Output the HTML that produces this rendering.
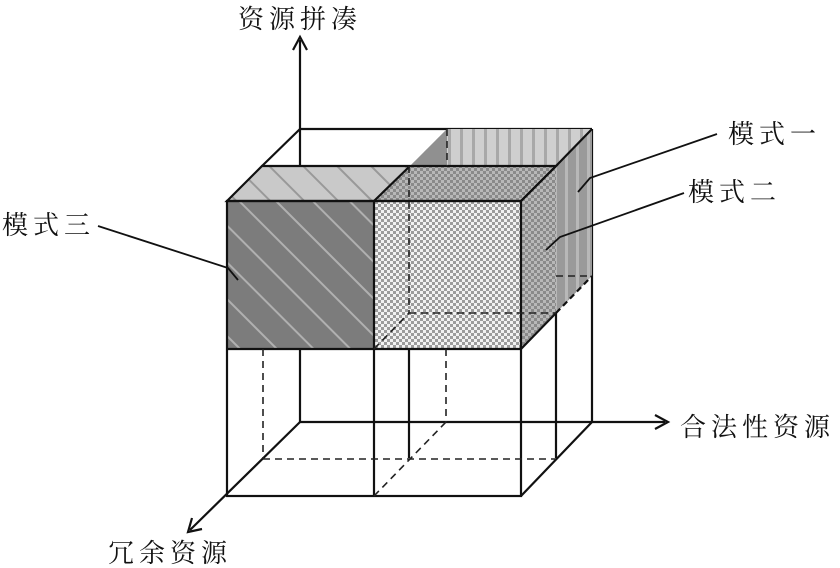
<!DOCTYPE html>
<html><head><meta charset="utf-8"><style>
html,body{margin:0;padding:0;background:#fff;}
svg{display:block;}
text{font-family:"Liberation Serif","Noto Serif CJK SC","Noto Sans CJK SC",serif;font-size:26px;fill:#111;letter-spacing:5px;}
</style></head><body>
<svg width="840" height="568" viewBox="0 0 840 568" xmlns="http://www.w3.org/2000/svg">
<defs>
<pattern id="diagL" width="24" height="24" patternUnits="userSpaceOnUse" patternTransform="rotate(-45)">
<rect width="24" height="24" fill="#c9c9c9"/><rect width="2" height="24" fill="#999"/></pattern>
<pattern id="diagD" width="26" height="26" patternUnits="userSpaceOnUse" patternTransform="rotate(-45)">
<rect width="26" height="26" fill="#7c7c7c"/><rect width="2" height="26" fill="#b0b0b0"/></pattern>
<pattern id="chkL" width="6" height="6" patternUnits="userSpaceOnUse">
<rect width="6" height="6" fill="#f2f2f2"/><rect width="3" height="3" fill="#9c9c9c"/><rect x="3" y="3" width="3" height="3" fill="#9c9c9c"/></pattern>
<pattern id="chkD" width="6" height="6" patternUnits="userSpaceOnUse">
<rect width="6" height="6" fill="#b8b8b8"/><rect width="3" height="3" fill="#8a8a8a"/><rect x="3" y="3" width="3" height="3" fill="#8a8a8a"/></pattern>
<pattern id="vL" width="12" height="10" patternUnits="userSpaceOnUse">
<rect width="12" height="10" fill="#cfcfcf"/><rect x="4" width="3" height="10" fill="#a8a8a8"/></pattern>
<pattern id="vD" width="11" height="10" patternUnits="userSpaceOnUse">
<rect width="11" height="10" fill="#9a9a9a"/><rect x="4" width="3" height="10" fill="#b8b8b8"/></pattern>
</defs>
<g stroke="#111" stroke-width="2.2" fill="none">
<line x1="300" y1="422" x2="300" y2="40"/>
<polyline points="293,50 300,37 307,50"/>
<line x1="300" y1="422" x2="665" y2="422"/>
<polyline points="655,415 668,422 655,429"/>
<line x1="300" y1="422" x2="190" y2="530"/>
<polyline points="192,518 188,532 202,529"/>
<line x1="300" y1="129" x2="592" y2="129"/>
<line x1="592" y1="129" x2="592" y2="422"/>
<line x1="556" y1="166" x2="556" y2="458"/>
<line x1="409" y1="349" x2="409" y2="458"/>
</g>
<polygon points="410,166 447,129 592,129 556,166" fill="url(#vL)"/>
<polygon points="410,166 447,129 447,166" fill="#909090"/>
<polygon points="556,166 592,129 592,276 556,313" fill="url(#vD)"/>
<polygon points="227,201 262,166 410,166 374,201" fill="url(#diagL)"/>
<rect x="227" y="201" width="147" height="148" fill="url(#diagD)"/>
<polygon points="374,201 410,166 556,166 521,201" fill="url(#chkD)"/>
<rect x="374" y="201" width="147" height="148" fill="url(#chkL)"/>
<polygon points="521,201 556,166 556,313 521,349" fill="url(#chkD)"/>
<g stroke="#111" stroke-width="2.2" fill="none">
<polygon points="227,201 262,166 556,166 521,201"/>
<line x1="410" y1="166" x2="374" y2="201"/>
<line x1="262" y1="166" x2="300" y2="129"/>
<line x1="556" y1="166" x2="592" y2="129"/>
<rect x="227" y="201" width="294" height="295"/>
<line x1="374" y1="201" x2="374" y2="496"/>
<line x1="227" y1="349" x2="521" y2="349"/>
<line x1="521" y1="201" x2="556" y2="166"/>
<line x1="521" y1="496" x2="592" y2="422"/>
<line x1="521" y1="349" x2="556" y2="313"/>
<line x1="556" y1="313" x2="592" y2="276" stroke-dasharray="6,4"/>
</g>
<g stroke="#222" stroke-width="1.6" fill="none" stroke-dasharray="7,5">
<line x1="263" y1="349" x2="263" y2="459"/>
<line x1="263" y1="459" x2="556" y2="459"/>
<line x1="446" y1="349" x2="446" y2="422"/>
<line x1="374" y1="496" x2="446" y2="422"/>
<line x1="556" y1="276" x2="592" y2="276"/>
<line x1="409" y1="313" x2="556" y2="313"/>
<line x1="374" y1="349" x2="409" y2="313"/>
<line x1="409" y1="166" x2="409" y2="313"/>
<line x1="447" y1="129" x2="447" y2="166"/>
</g>
<g stroke="#111" stroke-width="1.8" fill="none">
<polyline points="717,134 590,178 578,192"/>
<polyline points="684,193 560,237 546,250"/>
<polyline points="98,226 228,268 238,280"/>
</g>
<text x="238" y="28">资源拼凑</text>
<text x="680" y="436">合法性资源</text>
<text x="108" y="562">冗余资源</text>
<text x="728" y="143">模式一</text>
<text x="688" y="201">模式二</text>
<text x="2" y="234">模式三</text>
</svg>
</body></html>
